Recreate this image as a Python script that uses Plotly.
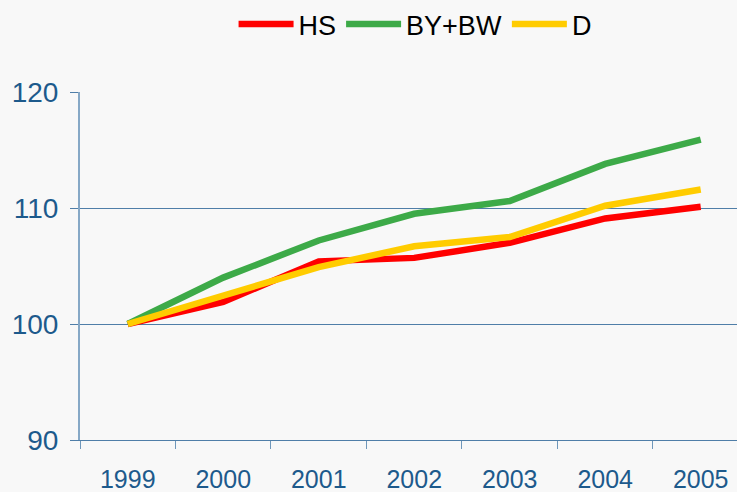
import plotly.graph_objects as go

years = ["1999", "2000", "2001", "2002", "2003", "2004", "2005"]
hs = [100.0, 101.9, 105.4, 105.7, 107.0, 109.1, 110.1]
bybw = [100.0, 104.0, 107.2, 109.5, 110.6, 113.8, 115.9]
d = [100.0, 102.4, 104.9, 106.7, 107.5, 110.2, 111.6]

series = [("HS", hs, "#ff0000"), ("BY+BW", bybw, "#3daa48"), ("D", d, "#ffcc00")]

fig = go.Figure()
for name, vals, col in series:
    fig.add_trace(go.Scatter(x=years, y=vals, name=name, mode="lines",
                             line=dict(color=col, width=6.5)))

fig.update_layout(
    width=737, height=492,
    paper_bgcolor="#f8f8f8", plot_bgcolor="#f8f8f8",
    margin=dict(l=80, r=0, t=92, b=52, autoexpand=False),
    font=dict(family="Liberation Sans, Arial, sans-serif"),
    showlegend=True,
    legend=dict(orientation="h", x=0.51, xanchor="center", y=1.0, yanchor="top",
                yref="container", font=dict(size=27, color="#000000"),
                itemwidth=55, tracegroupgap=0, bgcolor="rgba(0,0,0,0)"),
    xaxis=dict(type="category", range=[-0.5, 6.38], tickson="boundaries",
               ticks="outside", ticklen=8, tickcolor="#6f97ba",
               showgrid=False, showline=True, linecolor="#4f7ea8", linewidth=1,
               tickfont=dict(size=25, color="#1d5a8c"), ticklabelstandoff=17,
               zeroline=False),
    yaxis=dict(range=[90, 120], tickvals=[90, 100, 110, 120],
               ticks="outside", ticklen=8, tickcolor="#4f7ea8",
               showgrid=True, gridcolor="#4f7ea8", gridwidth=1,
               showline=True, linecolor="#86a8c6", linewidth=2,
               tickfont=dict(size=28, color="#1d5a8c"), ticklabelstandoff=6,
               zeroline=False),
)

fig.write_html("out.html", config={"displayModeBar": False},
               post_script="document.body.style.margin='0';")
